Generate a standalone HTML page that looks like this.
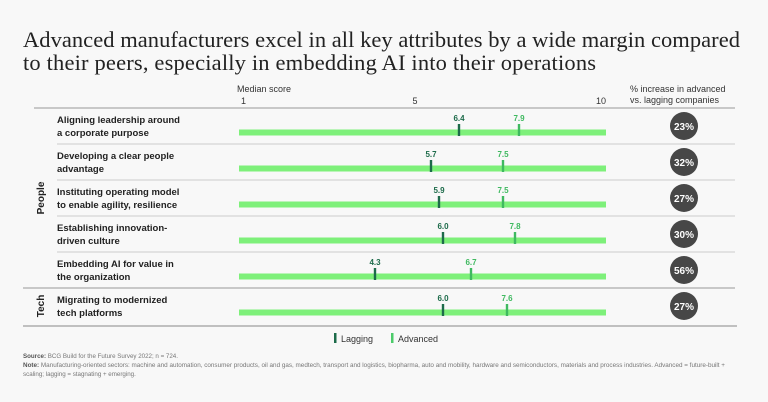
<!DOCTYPE html>
<html><head><meta charset="utf-8"><style>
body{margin:0;background:#f8f8f8;width:768px;height:402px;overflow:hidden;font-family:"Liberation Sans",sans-serif}
svg{display:block}
</style></head><body>
<svg width="768" height="402">
<g id="title" font-family="Liberation Serif" font-size="22.5" fill="#222">
<text x="23" y="47" textLength="717">Advanced manufacturers excel in all key attributes by a wide margin compared</text>
<text x="23" y="70" textLength="573">to their peers, especially in embedding AI into their operations</text>
</g>
<text x="237" y="92" font-size="9" fill="#333">Median score</text>
<text x="630" y="92" font-size="9" fill="#333">% increase in advanced</text>
<text x="630" y="103" font-size="9" fill="#333">vs. lagging companies</text>
<g id="ticks"></g>
<line x1="34" y1="108" x2="735" y2="108" stroke="#999"/>
<g id="rows"></g>
<text transform="translate(44,198) rotate(-90)" text-anchor="middle" font-size="10" font-weight="bold" fill="#222">People</text>
<text transform="translate(44,306) rotate(-90)" text-anchor="middle" font-size="10" font-weight="bold" fill="#222">Tech</text>
<line x1="23" y1="288" x2="735" y2="288" stroke="#999"/>
<line x1="23" y1="326" x2="737" y2="326" stroke="#888"/>
<g>
<rect x="334" y="333" width="2.5" height="10" fill="#1d6b4a"/>
<text x="341" y="342" font-size="9" fill="#333">Lagging</text>
<rect x="391" y="333" width="2.5" height="10" fill="#4ccb6a"/>
<text x="398" y="342" font-size="9" fill="#333">Advanced</text>
</g>
<g font-size="6.2" fill="#777">
<text x="23" y="358"><tspan font-weight="bold" fill="#555">Source:</tspan> BCG Build for the Future Survey 2022; n = 724.</text>
<text x="23" y="367" textLength="702" lengthAdjust="spacingAndGlyphs"><tspan font-weight="bold" fill="#555">Note:</tspan> Manufacturing-oriented sectors: machine and automation, consumer products, oil and gas, medtech, transport and logistics, biopharma, auto and mobility, hardware and semiconductors, materials and process industries. Advanced = future-built +</text>
<text x="23" y="376">scaling; lagging = stagnating + emerging.</text>
</g>
</svg>
<script>
const labels1=["Aligning leadership around","Developing a clear people","Instituting operating model","Establishing innovation-","Embedding AI for value in","Migrating to modernized"];
const labels2=["a corporate purpose","advantage","to enable agility, resilience","driven culture","the organization","tech platforms"];
const lagging=[6.4,5.7,5.9,6.0,4.3,6.0];
const advanced=[7.9,7.5,7.5,7.8,6.7,7.6];
const pctIncrease=["23%","32%","27%","30%","56%","27%"];
const tickVals=[1,5,10];
const NS="http://www.w3.org/2000/svg";
const x=v=>243+(v-1)*40;
function mk(tag,attrs,parent,txt){const e=document.createElementNS(NS,tag);for(const k in attrs)e.setAttribute(k,attrs[k]);if(txt!==undefined)e.textContent=txt;parent.appendChild(e);return e;}
const tk=document.getElementById('ticks');
tickVals.forEach(v=>{const t=mk('text',{x:x(v)-(v==1?2:(v==10?2:-12)),y:104,'font-size':9,fill:'#333','text-anchor':v==1?'start':'middle'},tk,String(v));

});
const rows=document.getElementById('rows');
labels1.forEach((l,i)=>{
 const y0=108+i*36;
 const g=mk('g',{},rows);
 
 
 mk('text',{x:57,y:y0+15,'font-size':9.5,'font-weight':'bold',fill:'#222'},g,l);
 mk('text',{x:57,y:y0+28,'font-size':9.5,'font-weight':'bold',fill:'#222'},g,labels2[i]);
 const bar=mk('rect',{x:239,y:y0+21.5,width:367,height:6,fill:'#7ef07a'},g);
 
 
 const m1=mk('rect',{x:x(lagging[i])-1.2,y:y0+16,width:2.4,height:12,fill:'#1d6b4a'},g);
 
 
 const m2=mk('rect',{x:x(advanced[i])-1.2,y:y0+16,width:2.4,height:12,fill:'#3fb960'},g);
 
 
 mk('text',{x:x(lagging[i]),y:y0+13,'font-size':8,'font-weight':'bold',fill:'#1d6b4a','text-anchor':'middle'},g,lagging[i].toFixed(1));
 mk('text',{x:x(advanced[i]),y:y0+13,'font-size':8,'font-weight':'bold',fill:'#3fb960','text-anchor':'middle'},g,advanced[i].toFixed(1));
 const c=mk('circle',{cx:684,cy:y0+18,r:14,fill:'#474747'},g);
 
 
 mk('text',{x:684,y:y0+22,'font-size':10,'font-weight':'bold',fill:'#fff','text-anchor':'middle'},g,pctIncrease[i]);
 if(i<4){const ln=mk('line',{x1:57,y1:y0+36,x2:735,y2:y0+36,stroke:'#ccc'},g);
 
 }
});
</script>
</body></html>
